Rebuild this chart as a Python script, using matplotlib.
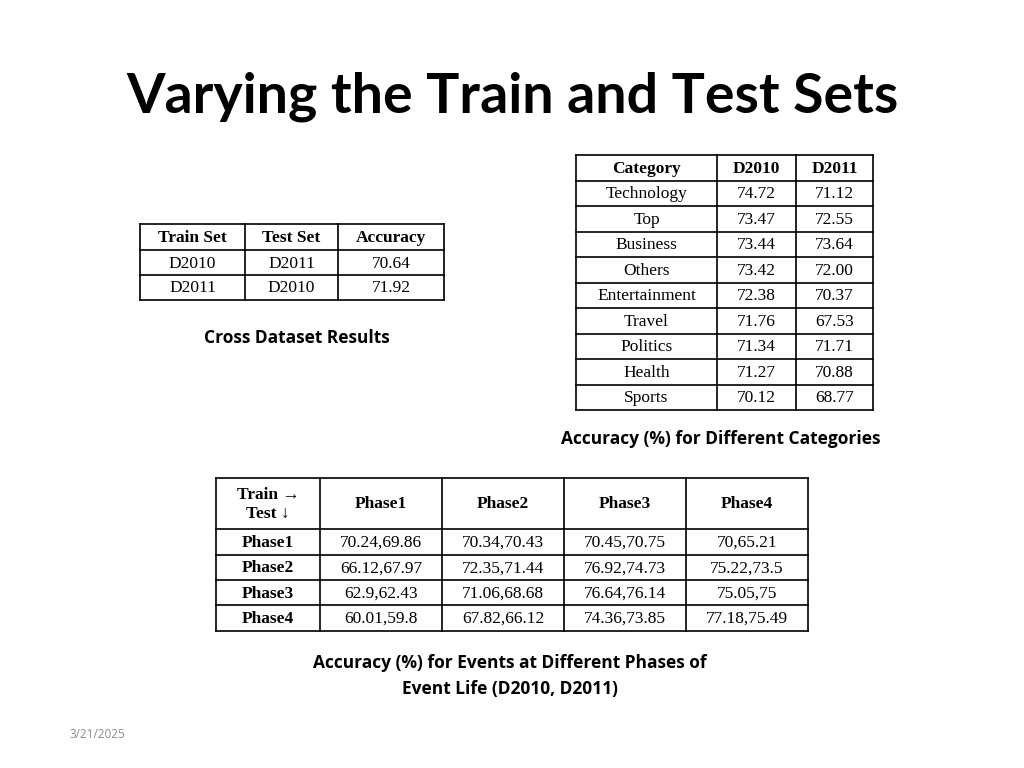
import matplotlib
matplotlib.use("Agg")
import matplotlib.pyplot as plt

title = "Varying the Train and Test Sets"
cross_header = ["Train Set", "Test Set", "Accuracy"]
cross_train = ["D2010", "D2011"]
cross_test = ["D2011", "D2010"]
cross_acc = ["70.64", "71.92"]

cat_header = ["Category", "D2010", "D2011"]
categories = ["Technology", "Top", "Business", "Others", "Entertainment", "Travel", "Politics", "Health", "Sports"]
d2010 = ["74.72", "73.47", "73.44", "73.42", "72.38", "71.76", "71.34", "71.27", "70.12"]
d2011 = ["71.12", "72.55", "73.64", "72.00", "70.37", "67.53", "71.71", "70.88", "68.77"]

phases = ["Phase1", "Phase2", "Phase3", "Phase4"]
phase_vals = [
    ["70.24,69.86", "70.34,70.43", "70.45,70.75", "70,65.21"],
    ["66.12,67.97", "72.35,71.44", "76.92,74.73", "75.22,73.5"],
    ["62.9,62.43", "71.06,68.68", "76.64,76.14", "75.05,75"],
    ["60.01,59.8", "67.82,66.12", "74.36,73.85", "77.18,75.49"],
]

fig = plt.figure(figsize=(10.24, 7.68), dpi=100)
ax = fig.add_axes([0, 0, 1, 1])
ax.set_xlim(0, 1024)
ax.set_ylim(768, 0)
ax.axis("off")

SERIF = "Liberation Serif"
SANS = "Open Sans"

def table(xs, ys, cells, bold_cells):
    for x in xs:
        ax.plot([x, x], [ys[0], ys[-1]], color="black", lw=1.2)
    for y in ys:
        ax.plot([xs[0], xs[-1]], [y, y], color="black", lw=1.2)
    for r, row in enumerate(cells):
        for c, txt in enumerate(row):
            bold = (r, c) in bold_cells
            ax.text((xs[c] + xs[c + 1]) / 2, (ys[r] + ys[r + 1]) / 2 + 1, txt,
                    ha="center", va="center", fontsize=12.5, family=SERIF,
                    fontweight="bold" if bold else "normal")

ax.text(512, 97, title, ha="center", va="center", fontsize=40, family="Lato", fontweight="bold")

# cross dataset table
cells = [cross_header] + [list(r) for r in zip(cross_train, cross_test, cross_acc)]
table([140, 245, 338, 444], [224, 250, 275, 300], cells, {(0, 0), (0, 1), (0, 2)})
ax.text(297, 338, "Cross Dataset Results", ha="center", va="center", fontsize=12.5, family=SANS, fontweight="bold")

# categories table
cells = [cat_header] + [list(r) for r in zip(categories, d2010, d2011)]
ys = [155 + i * 25.5 for i in range(len(cells) + 1)]
table([576, 717, 796, 873], ys, cells, {(0, 0), (0, 1), (0, 2)})
ax.text(721, 439, "Accuracy (%) for Different Categories", ha="center", va="center", fontsize=12.5, family=SANS, fontweight="bold")

# phases table
cells = [["Train \u2192\nTest \u2193"] + phases] + [[p] + v for p, v in zip(phases, phase_vals)]
bold = {(0, i) for i in range(5)} | {(i, 0) for i in range(1, 5)}
table([216, 320, 442, 564, 686, 808], [478, 529, 555, 580, 605, 631], cells, bold)
ax.text(510, 676, "Accuracy (%) for Events at Different Phases of\nEvent Life (D2010, D2011)",
        ha="center", va="center", fontsize=12.5, family=SANS, fontweight="bold", linespacing=1.6)

ax.text(97, 734, "3/21/2025", ha="center", va="center", fontsize=8.5, family=SANS, color="#8c8c8c")

fig.savefig("out.png", dpi=100)
